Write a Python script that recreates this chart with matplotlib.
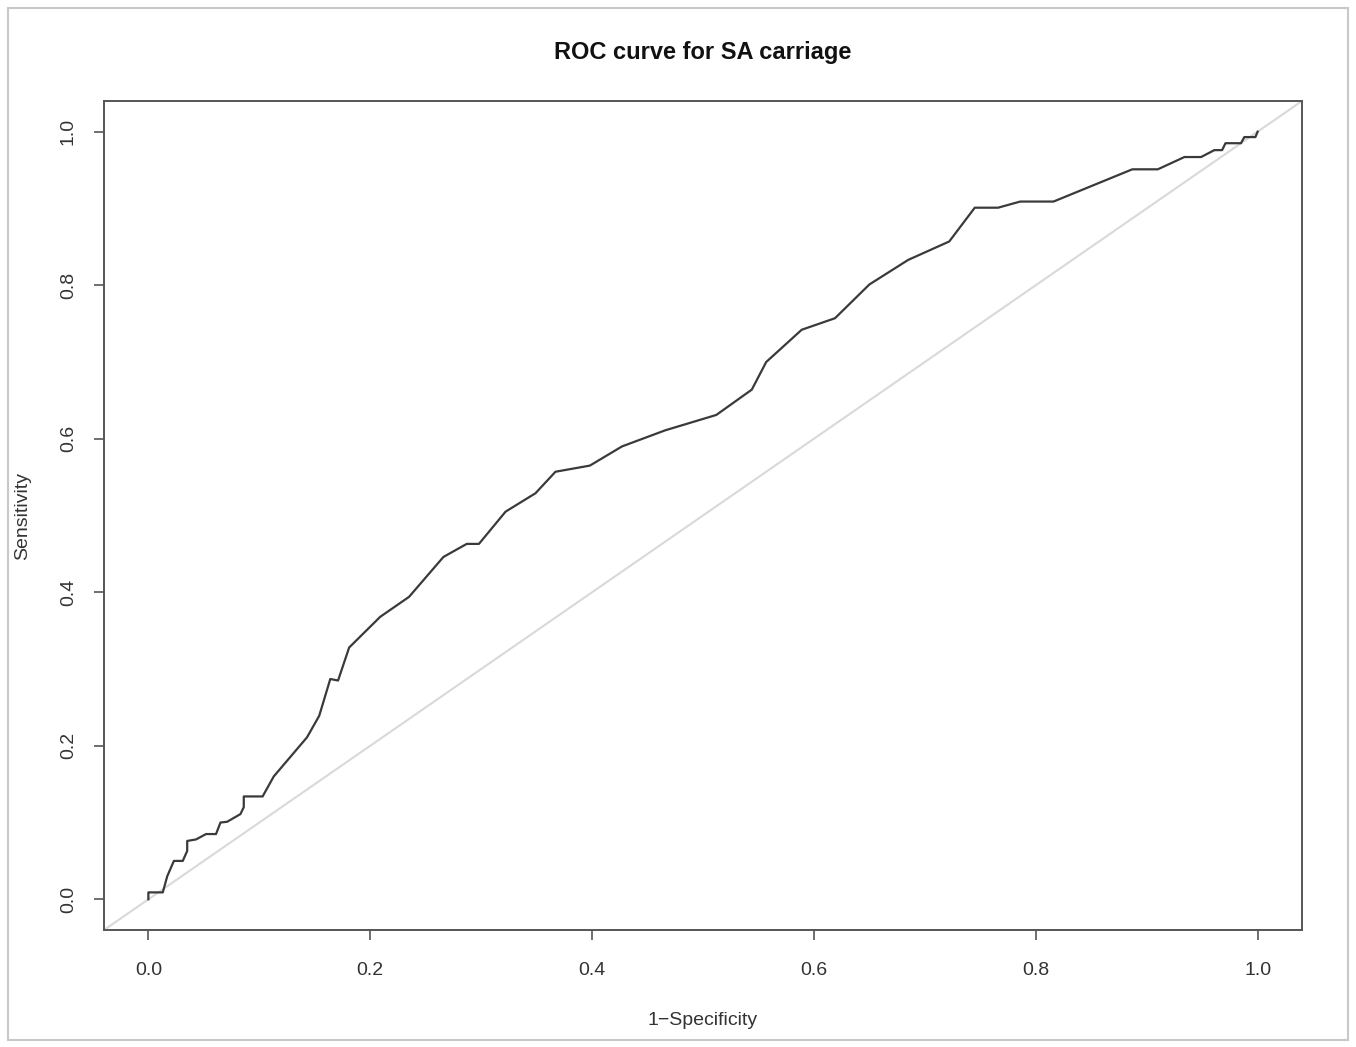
import matplotlib
matplotlib.use("Agg")
import matplotlib.pyplot as plt
from matplotlib.patches import Rectangle

plt.rcParams['font.family'] = ['Liberation Sans', 'DejaVu Sans']

# ROC curve points
fpr = [0.0, 0.0, 0.013, 0.017, 0.023, 0.031, 0.035, 0.035, 0.043, 0.052, 0.061, 0.065,
       0.071, 0.083, 0.086, 0.086, 0.103, 0.113, 0.143, 0.154, 0.164, 0.171, 0.181, 0.209,
       0.235, 0.266, 0.287, 0.298, 0.322, 0.349, 0.367, 0.398, 0.427, 0.466, 0.512, 0.544,
       0.557, 0.589, 0.619, 0.650, 0.685, 0.722, 0.745, 0.766, 0.786, 0.816, 0.887, 0.910,
       0.934, 0.949, 0.961, 0.968, 0.971, 0.985, 0.988, 0.998, 1.0]
tpr = [0.0, 0.009, 0.009, 0.030, 0.050, 0.050, 0.063, 0.076, 0.078, 0.085, 0.085, 0.100,
       0.101, 0.111, 0.120, 0.134, 0.134, 0.160, 0.211, 0.239, 0.287, 0.285, 0.328, 0.368,
       0.394, 0.446, 0.463, 0.463, 0.505, 0.529, 0.557, 0.565, 0.590, 0.611, 0.631, 0.664,
       0.700, 0.742, 0.757, 0.801, 0.833, 0.857, 0.901, 0.901, 0.909, 0.909, 0.951, 0.951,
       0.967, 0.967, 0.976, 0.976, 0.985, 0.985, 0.993, 0.993, 1.0]
ticks = [0.0, 0.2, 0.4, 0.6, 0.8, 1.0]
tick_labels = ["0.0", "0.2", "0.4", "0.6", "0.8", "1.0"]

fig = plt.figure(figsize=(13.56, 10.47), dpi=100)
fig.patches.append(Rectangle((8 / 1356, 7 / 1047), 1340 / 1356, 1032 / 1047,
                             transform=fig.transFigure, fill=False,
                             edgecolor='#c8c8c8', linewidth=1.5))
ax = fig.add_axes([104 / 1356, 1 - 930 / 1047, 1198 / 1356, 829 / 1047])

ax.axline((0, 0), (1, 1), color='#d9d9d9', linewidth=1.5)
ax.plot(fpr, tpr, color='#3a3a3a', linewidth=1.6)

ax.set_xlim(-0.04, 1.04)
ax.set_ylim(-0.04, 1.04)
ax.set_xticks(ticks)
ax.set_xticklabels(tick_labels, fontsize=14, color='#333333')
ax.set_yticks(ticks)
ax.set_yticklabels(tick_labels, fontsize=14, color='#333333', rotation=90, va='center')
ax.tick_params(axis='both', length=7, width=1.2, color='#555555', direction='out')
ax.tick_params(axis='x', pad=16)
ax.tick_params(axis='y', pad=12.5)
for s in ax.spines.values():
    s.set_color('#555555')
    s.set_linewidth(1.4)

ax.set_xlabel('1\u2212Specificity', fontsize=14, color='#333333', labelpad=24)
ax.set_ylabel('Sensitivity', fontsize=14, color='#333333', labelpad=21)
fig.text(703 / 1356, 1 - 53 / 1047, 'ROC curve for SA carriage', fontsize=17,
         fontweight='bold', ha='center', va='center', color='#111111')

fig.savefig('out.png', dpi=100)
